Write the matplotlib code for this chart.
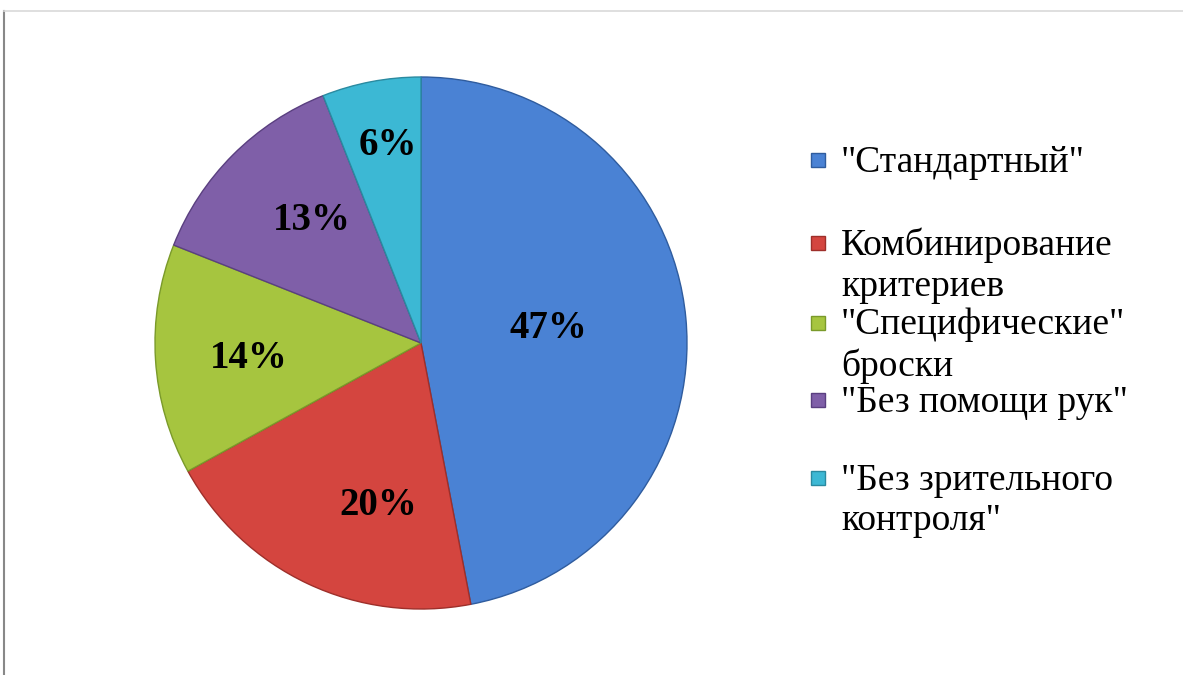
import numpy as np
import matplotlib.pyplot as plt
from matplotlib.lines import Line2D
from matplotlib.patches import Rectangle

labels = ['"Стандартный"', 'Комбинирование\nкритериев', '"Специфические"\nброски',
          '"Без помощи рук"', '"Без зрительного\nконтроля"']
values = [47, 20, 14, 13, 6]
pct_labels = ['47%', '20%', '14%', '13%', '6%']
colors = ['#4a82d4', '#d4453f', '#a6c53f', '#7f5fa8', '#3cb8d4']
edges = ['#2f5c9e', '#9e2f2a', '#7a9a2a', '#5a3f80', '#2a8aa0']

# label placement: radius fraction and angular nudge (deg) from the wedge middle
label_r = [0.483, 0.62, 0.65, 0.627, 0.765]
label_dang = [2.7, 10.0, 0.4, -3.9, -1.4]
# legend entry top positions in pixels
legend_y = [160, 243, 323, 400, 478]

W, H = 1183, 675
fig = plt.figure(figsize=(W / 100, H / 100), dpi=100)

ax = fig.add_axes([(421 - 266) / W, 1 - (343 + 266) / H, 532 / W, 532 / H])
wedges, _ = ax.pie(values, colors=colors, startangle=90, counterclock=False,
                   radius=1.0, wedgeprops=dict(linewidth=1.0))
for w, ec in zip(wedges, edges):
    w.set_edgecolor(ec)
ax.set_xlim(-1, 1)
ax.set_ylim(-1, 1)
ax.set_aspect('equal')

for w, txt, r, da in zip(wedges, pct_labels, label_r, label_dang):
    ang = np.deg2rad((w.theta1 + w.theta2) / 2 + da)
    ax.text(r * np.cos(ang), r * np.sin(ang) - 0.012, txt, ha='center', va='center',
            fontsize=28, fontweight='bold', family='Liberation Serif', color='black')

# legend drawn by hand to follow the uneven spacing of the original
for lab, c, ec, y in zip(labels, colors, edges, legend_y):
    fig.patches.append(Rectangle((811 / W, 1 - (y + 7) / H), 14 / W, 14 / H,
                                 transform=fig.transFigure, facecolor=c,
                                 edgecolor=ec, linewidth=1.0))
    fig.text(841 / W, 1 - (y - 15) / H, lab, ha='left', va='top', fontsize=27,
             family='Liberation Serif', linespacing=1.22, color='black')

# chart frame lines
fig.add_artist(Line2D([3.5 / W, 3.5 / W], [0, 1 - 11 / H], color='#888888', lw=1.5))
fig.add_artist(Line2D([3.5 / W, 1], [1 - 11 / H, 1 - 11 / H], color='#d9d9d9', lw=1.2))

fig.savefig('out.png', dpi=100)
